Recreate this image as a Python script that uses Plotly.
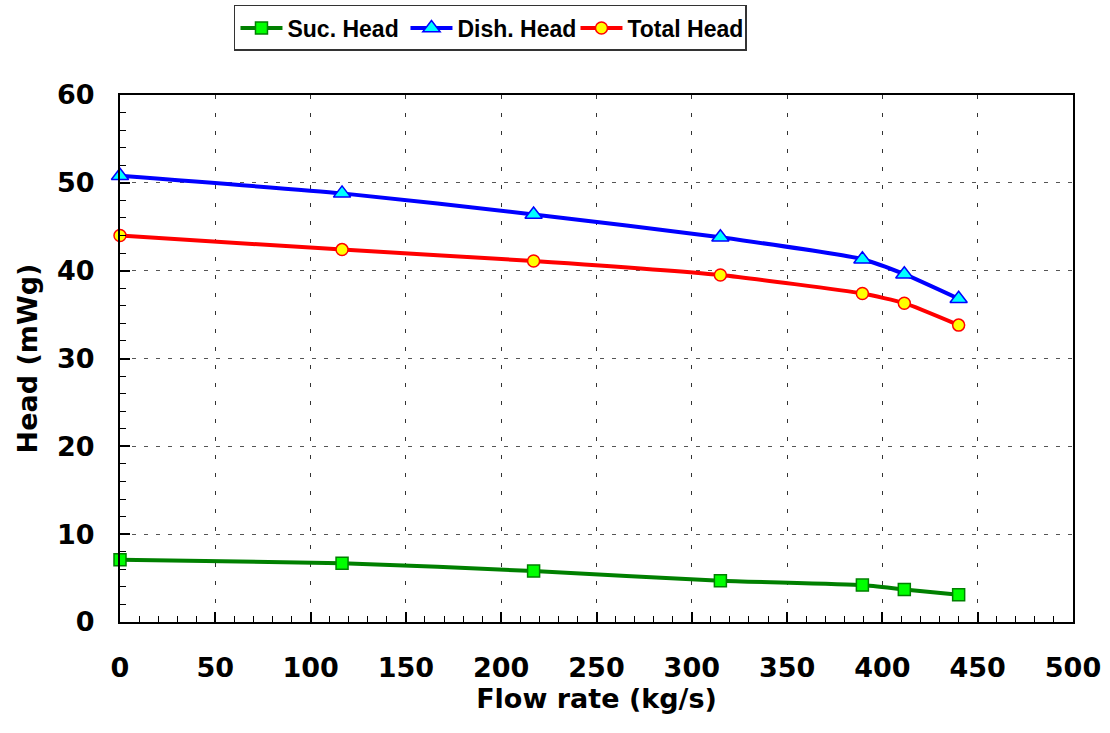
import plotly.graph_objects as go

flow = [0, 116.5, 217, 315, 389.5, 411.5, 440]
suc_head = [7.1, 6.7, 5.8, 4.7, 4.2, 3.7, 3.1]
dis_head = [50.8, 48.8, 46.4, 43.8, 41.3, 39.6, 36.8]
tot_head = [44.0, 42.4, 41.1, 39.5, 37.4, 36.3, 33.8]

x_ticks = [0, 50, 100, 150, 200, 250, 300, 350, 400, 450, 500]
y_ticks = [0, 10, 20, 30, 40, 50, 60]

TICKFONT = dict(family="DejaVu Sans", size=27, color="black", weight="bold")
LEGFONT = dict(family="Liberation Sans", size=23, color="black", weight="bold")

fig = go.Figure()
fig.add_trace(go.Scatter(
    x=flow, y=suc_head, name="Suc. Head", mode="lines+markers",
    line=dict(color="#008000", width=4, shape="spline", smoothing=0.5),
    marker=dict(symbol="square", size=12, color="#00ff00", line=dict(color="#008000", width=1.5)),
    cliponaxis=False))
fig.add_trace(go.Scatter(
    x=flow, y=dis_head, name="Dish. Head", mode="lines+markers",
    line=dict(color="#0000ff", width=4, shape="spline", smoothing=0.5),
    marker=dict(symbol="triangle-up", size=15, color="#00ffff", line=dict(color="#0000ff", width=1.5)),
    cliponaxis=False))
fig.add_trace(go.Scatter(
    x=flow, y=tot_head, name="Total Head", mode="lines+markers",
    line=dict(color="#ff0000", width=4, shape="spline", smoothing=0.5),
    marker=dict(symbol="circle", size=12, color="#ffff00", line=dict(color="#ff0000", width=1.5)),
    cliponaxis=False))

fig.update_layout(
    width=1110, height=733,
    margin=dict(l=120, r=37, t=95, b=111, autoexpand=False),
    paper_bgcolor="white", plot_bgcolor="white",
    showlegend=True,
    legend=dict(
        orientation="h", x=0.1196, xanchor="left", xref="paper",
        y=1.1708, yanchor="top", yref="paper",
        font=LEGFONT, bgcolor="white", bordercolor="#333333", borderwidth=1.5,
        itemwidth=42, tracegroupgap=0, entrywidth=113, entrywidthmode="pixels",
    ),
    xaxis=dict(
        range=[0, 500], tickvals=x_ticks, ticktext=[str(v) for v in x_ticks],
        tickfont=TICKFONT, ticks="inside", ticklen=10, tickwidth=1.5, tickcolor="black",
        minor=dict(ticks="inside", dtick=10, ticklen=6, tickwidth=1.2, tickcolor="black", showgrid=False),
        showline=True, linecolor="black", linewidth=2, mirror=True,
        showgrid=True, gridcolor="#333333", gridwidth=1.2, griddash="4px,14px",
        zeroline=False, ticklabelstandoff=21,
        title=dict(text="Flow rate (kg/s)", font=dict(family="DejaVu Sans", size=27, color="black", weight="bold"), standoff=6),
    ),
    yaxis=dict(
        range=[0, 60], tickvals=y_ticks, ticktext=[str(v) for v in y_ticks],
        tickfont=TICKFONT, ticks="inside", ticklen=10, tickwidth=1.5, tickcolor="black",
        minor=dict(ticks="inside", dtick=2, ticklen=6, tickwidth=1.2, tickcolor="black", showgrid=False),
        showline=True, linecolor="black", linewidth=2, mirror=True,
        showgrid=True, gridcolor="#555555", gridwidth=1.2, griddash="4px,8px",
        zeroline=False, ticklabelstandoff=18,
        title=dict(text="Head (mWg)", font=dict(family="DejaVu Sans", size=27, color="black", weight="bold"), standoff=12),
    ),
)

fig.write_html("out.html")
